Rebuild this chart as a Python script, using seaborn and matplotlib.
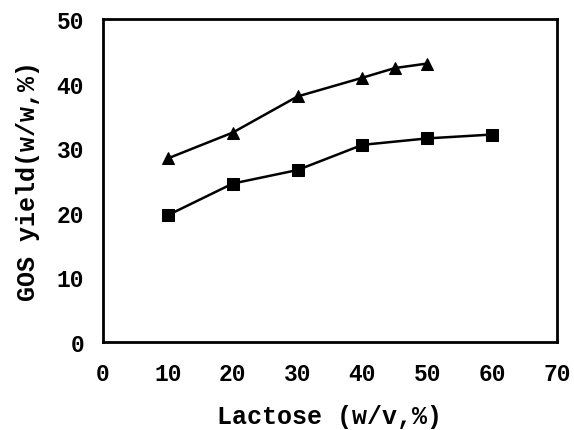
import pandas as pd
import seaborn as sns
import matplotlib.pyplot as plt

# ─── Data ─────────────────────────────────────────────────────────────────────
tri_x = [10, 20, 30, 40, 45, 50]
tri_y = [28.4, 32.4, 38.0, 40.9, 42.4, 43.1]
sq_x = [10, 20, 30, 40, 50, 60]
sq_y = [19.6, 24.5, 26.6, 30.5, 31.5, 32.1]

x_ticks = [0, 10, 20, 30, 40, 50, 60, 70]
y_ticks = [0, 10, 20, 30, 40, 50]

df = pd.concat([
    pd.DataFrame({"x": tri_x, "y": tri_y, "series": "tri"}),
    pd.DataFrame({"x": sq_x, "y": sq_y, "series": "sq"}),
])

# ─── Style ────────────────────────────────────────────────────────────────────
sns.set_theme(style="white")
plt.rcParams["font.family"] = ["Liberation Mono", "DejaVu Sans Mono"]
plt.rcParams["font.weight"] = "bold"

fig = plt.figure(figsize=(5.74, 4.31), dpi=100)
ax = fig.add_axes([0.1794, 0.2049, 0.7910, 0.7487])

sns.lineplot(data=df, x="x", y="y", style="series", markers={"tri": "^", "sq": "s"},
             dashes=False, color="black", linewidth=1.8, markersize=8,
             markeredgecolor="black", legend=False, ax=ax, sort=False)

ax.set_xlim(0, 70)
ax.set_ylim(0, 50)
ax.set_xticks(x_ticks)
ax.set_yticks(y_ticks)

for s in ax.spines.values():
    s.set_color("black")
    s.set_linewidth(2)

ax.tick_params(axis="both", direction="inout", length=9, width=1.3, color="black",
               labelsize=16.5, labelcolor="black")
ax.tick_params(axis="y", pad=9)
ax.tick_params(axis="x", pad=10)

ax.set_xlabel("Lactose (w/v,%)", fontsize=18, fontweight="bold", color="black", labelpad=13.5)
ax.set_ylabel("GOS yield(w/w,%)", fontsize=18, fontweight="bold", color="black", labelpad=12)

fig.savefig("out.png", dpi=100)
